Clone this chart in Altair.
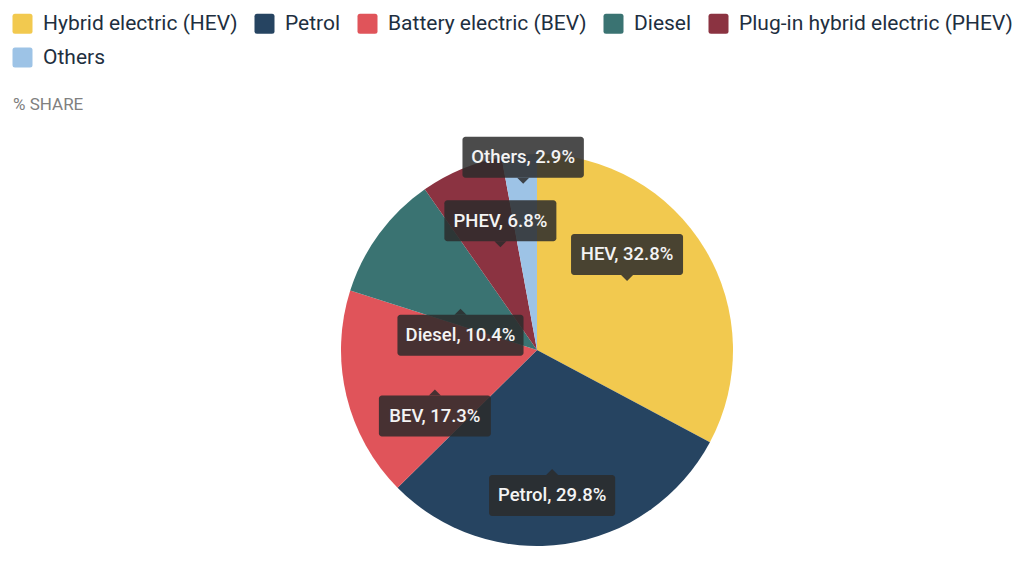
import altair as alt
import pandas as pd

categories = ["Hybrid electric (HEV)", "Petrol", "Battery electric (BEV)", "Diesel",
              "Plug-in hybrid electric (PHEV)", "Others"]
short_names = ["HEV", "Petrol", "BEV", "Diesel", "PHEV", "Others"]
shares = [32.8, 29.8, 17.3, 10.4, 6.8, 2.9]
colors = ["#F2C94F", "#264461", "#E0545A", "#3A7372", "#8B3341", "#9DC3E6"]

df = pd.DataFrame({
    "idx": list(range(len(categories))),
    "category": categories,
    "short": short_names,
    "share": shares,
})

W, H = 1008, 566
CX, CY = 529, 342
R = 196

rounded_sq = "M-0.75,-1H0.75Q1,-1,1,-0.75V0.75Q1,1,0.75,1H-0.75Q-1,1,-1,0.75V-0.75Q-1,-1,-0.75,-1Z"

base = alt.Chart(df)

arc = base.mark_arc(outerRadius=R, strokeWidth=0).encode(
    theta=alt.Theta("share:Q", stack=True),
    color=alt.Color("category:N",
                    scale=alt.Scale(domain=categories, range=colors),
                    sort=categories,
                    legend=alt.Legend(title=None, orient="none", legendX=4, legendY=5,
                                      direction="horizontal", columns=5)),
    order=alt.Order("idx:Q"),
    x=alt.value(CX),
    y=alt.value(CY),
)

lab = base.transform_joinaggregate(
    total="sum(share)"
).transform_window(
    cum="sum(share)", sort=[alt.SortField("idx")], frame=[None, 0]
).transform_calculate(
    ang="2*PI*(datum.cum - datum.share/2)/datum.total",
    r="datum.share < 5 ? 152 : (datum.share < 15 ? 95 : 105)",
    label="datum.short + ', ' + format(datum.share, '.1f') + '%'",
).transform_calculate(
    ax="datum.r*sin(datum.ang)",
    ay="datum.r*cos(datum.ang)",
    dir="(datum.ang < PI/2 || datum.ang > 1.78*PI) ? 'above' : 'below'",
    bw="65 + 4.7*length(datum.label)",
).transform_calculate(
    tx="datum.ax",
    ty="datum.dir == 'above' ? datum.ay + 15 : datum.ay - 15",
).transform_calculate(
    x1="datum.tx - datum.bw/2",
    x2="datum.tx + datum.bw/2",
    y1="datum.dir == 'above' ? datum.ty + 6 : datum.ty - 6",
    y2="datum.dir == 'above' ? datum.ty + 47 : datum.ty - 47",
    yc="datum.dir == 'above' ? datum.ty + 26.5 : datum.ty - 26.5",
)

xs = alt.Scale(domain=[-CX, W - CX], nice=False, zero=False)
ys = alt.Scale(domain=[-(H - CY), CY], nice=False, zero=False)

boxes = lab.mark_rect(cornerRadius=3, fill="#2b2b2b", opacity=0.85).encode(
    x=alt.X("x1:Q", scale=xs, axis=None),
    x2="x2:Q",
    y=alt.Y("y1:Q", scale=ys, axis=None),
    y2="y2:Q",
)

pointers = lab.mark_point(filled=True, fill="#2b2b2b", opacity=0.85, strokeWidth=0, size=144).encode(
    x=alt.X("tx:Q", scale=xs, axis=None),
    y=alt.Y("ty:Q", scale=ys, axis=None),
    shape=alt.Shape("dir:N", scale=alt.Scale(domain=["above", "below"],
                                             range=["M-1,-1L1,-1L0,0Z", "M-1,1L1,1L0,0Z"]),
                    legend=None),
)

texts = lab.mark_text(font="Roboto", fontSize=18.5, fontWeight=500, color="#f4f4f4",
                      align="center", baseline="middle").encode(
    x=alt.X("tx:Q", scale=xs, axis=None),
    y=alt.Y("yc:Q", scale=ys, axis=None),
    text="label:N",
)

subtitle = alt.Chart(pd.DataFrame({"t": ["% SHARE"]})).mark_text(
    font="Roboto", fontSize=17, color="#808080", align="left", baseline="alphabetic"
).encode(x=alt.value(5), y=alt.value(102), text="t:N")

chart = alt.layer(arc, boxes, pointers, texts, subtitle).properties(
    width=W, height=H, padding=0,
    autosize=alt.AutoSizeParams(type="none"),
).configure_view(stroke=None).configure_legend(
    labelFont="Roboto", labelFontSize=21, labelColor="#1e2f40", labelLimit=0,
    symbolType=rounded_sq, symbolSize=400, symbolStrokeWidth=0, symbolOpacity=1,
    labelOffset=10, columnPadding=16, rowPadding=12, padding=0,
)

chart.save("out.html", embed_options={"renderer": "svg", "actions": False})
